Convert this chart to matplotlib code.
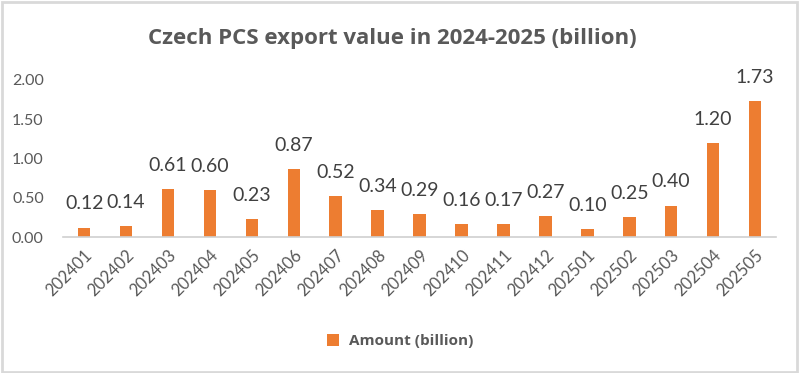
import matplotlib.pyplot as plt
from matplotlib.patches import Rectangle

months = ["202401", "202402", "202403", "202404", "202405", "202406", "202407", "202408",
          "202409", "202410", "202411", "202412", "202501", "202502", "202503", "202504", "202505"]
amount = [0.12, 0.14, 0.61, 0.60, 0.23, 0.87, 0.52, 0.34,
          0.29, 0.16, 0.17, 0.27, 0.10, 0.25, 0.40, 1.20, 1.73]
yticks = [0.0, 0.5, 1.0, 1.5, 2.0]

orange = "#ED7D31"
gray = "#595959"

fig = plt.figure(figsize=(8, 3.73), dpi=100)
ax = fig.add_axes([0.079, 0.3646, 0.891, 0.421])

x = list(range(len(months)))
bars = ax.bar(x, amount, width=0.3, color=orange, label="Amount (billion)")

for xi, v in zip(x, amount):
    ax.annotate("%.2f" % v, (xi, v), xytext=(0, 17), textcoords="offset points",
                ha="center", va="center", fontsize=14, color="#404040", family="Lato")

ax.set_xlim(-0.5, len(months) - 0.5)
ax.set_ylim(0, 2)
ax.set_yticks(yticks)
ax.set_yticklabels(["%.2f" % t for t in yticks], family="Lato", fontsize=11.5, color=gray)
ax.set_xticks(x)
ax.set_xticklabels(months, rotation=45, ha="right", rotation_mode="anchor",
                   family="Lato", fontsize=12, color=gray)
ax.tick_params(axis="y", length=0, pad=14)
ax.tick_params(axis="x", length=0, pad=7)

for s in ["top", "right", "left"]:
    ax.spines[s].set_visible(False)
ax.spines["bottom"].set_color("#D0D0D0")
ax.spines["bottom"].set_linewidth(1.2)

fig.text(0.49, 0.898, "Czech PCS export value in 2024-2025 (billion)", ha="center", va="center",
         fontsize=16, fontweight="bold", color=gray, family="Open Sans")

fig.legend(handles=[bars], loc="center", bbox_to_anchor=(0.5, 0.085), frameon=False,
           prop={"family": "Open Sans", "weight": "bold", "size": 11},
           labelcolor=gray, handlelength=0.8, handleheight=0.8, handletextpad=0.6)

fig.patches.append(Rectangle((0.002, 0.004), 0.994, 0.99, transform=fig.transFigure,
                             fill=False, edgecolor="#D9D9D9", linewidth=2))

fig.savefig("out.png", dpi=100)
